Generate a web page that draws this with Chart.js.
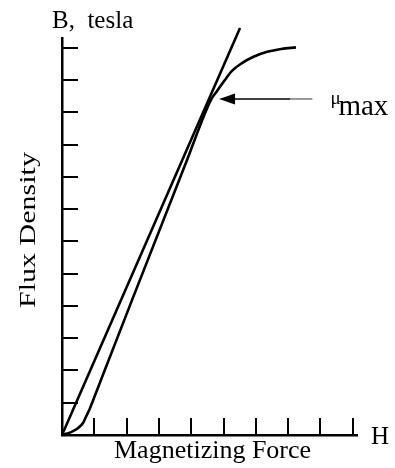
<!DOCTYPE html>
<html>
<head>
<meta charset="utf-8">
<script src="https://cdn.jsdelivr.net/npm/chart.js@4/dist/chart.umd.min.js"></script>
<style>
  html, body { margin: 0; padding: 0; background: #fff; }
  canvas { display: block; }
</style>
</head>
<body>
<canvas id="c" width="395" height="468"></canvas>
<script>
// ---- data (H and B in tick units) ----
const curveH = [0, 0.28, 0.50, 0.65, 0.74, 0.87, 1.11, 2.17, 3.87, 4.61, 4.80, 5.02, 5.26, 5.57, 5.91, 6.35, 6.78, 7.24];
const curveB = [0, 0.09, 0.22, 0.37, 0.56, 0.84, 1.46, 4.19, 8.53, 10.39, 10.67, 10.98, 11.29, 11.53, 11.72, 11.88, 11.97, 12.02];
const tangentH = [0, 5.51];
const tangentB = [0, 12.62];
const xTicks = [1, 2, 3, 4, 5, 6, 7, 8, 9];
const yTicks = [1, 2, 3, 4, 5, 6, 7, 8, 9, 10, 11, 12];
const xLabel = 'Magnetizing Force';
const yLabel = 'Flux Density';
const yUnitLabel = 'B,  tesla';
const xUnitLabel = 'H';
const muLabel = 'μ';
const muSub = 'max';
// annotation anchor (data units): arrow tip near point of maximum permeability
const arrowTip = {x: 4.86, y: 10.42};
const arrowTailX = 7.75;

const SERIF = '"Liberation Serif", "DejaVu Serif", serif';

const toPts = (xs, ys) => xs.map((x, i) => ({x, y: ys[i]}));

const decor = {
  id: 'decor',
  afterDraw(chart) {
    const ctx = chart.ctx;
    const xs = chart.scales.x, ys = chart.scales.y;
    const a = chart.chartArea;
    ctx.save();
    ctx.strokeStyle = '#000';
    ctx.fillStyle = '#000';
    ctx.lineCap = 'butt';
    // inward tick marks
    ctx.lineWidth = 2;
    yTicks.forEach(v => {
      const py = Math.round(ys.getPixelForValue(v));
      ctx.beginPath(); ctx.moveTo(a.left, py); ctx.lineTo(a.left + 16, py); ctx.stroke();
    });
    xTicks.forEach(v => {
      const px = Math.round(xs.getPixelForValue(v));
      ctx.beginPath(); ctx.moveTo(px, a.bottom); ctx.lineTo(px, a.bottom - 17); ctx.stroke();
    });
    // arrow to mu max
    const tx = xs.getPixelForValue(arrowTip.x), ty = ys.getPixelForValue(arrowTip.y);
    const ex = xs.getPixelForValue(arrowTailX);
    ctx.lineWidth = 1.5;
    ctx.beginPath(); ctx.moveTo(tx + 14, ty); ctx.lineTo(ex - 22, ty); ctx.stroke();
    ctx.strokeStyle = '#777';
    ctx.beginPath(); ctx.moveTo(ex - 22, ty); ctx.lineTo(ex, ty); ctx.stroke();
    ctx.strokeStyle = '#000';
    ctx.beginPath();
    ctx.moveTo(tx, ty); ctx.lineTo(tx + 16, ty - 5.5); ctx.lineTo(tx + 16, ty + 5.5); ctx.closePath();
    ctx.fill();
    // texts
    ctx.textBaseline = 'alphabetic';
    ctx.textAlign = 'left';
    ctx.font = '25px ' + SERIF;
    ctx.fillText(yUnitLabel, 52, 28);
    ctx.fillText(xUnitLabel, 371, 444);
    ctx.font = '26px ' + SERIF;
    ctx.fillText(xLabel, 114, 458);
    // mu max
    ctx.font = '19px ' + SERIF;
    ctx.fillText(muLabel, ex + 18, ty + 5);
    ctx.font = '29px ' + SERIF;
    ctx.fillText(muSub, ex + 26, ty + 16);
    // rotated y label
    ctx.save();
    ctx.translate(35, 230);
    ctx.rotate(-Math.PI / 2);
    ctx.scale(1.25, 1);
    ctx.font = '24px ' + SERIF;
    ctx.textAlign = 'center';
    ctx.fillText(yLabel, 0, 0);
    ctx.restore();
    ctx.restore();
  }
};

new Chart(document.getElementById('c'), {
  type: 'scatter',
  data: {
    datasets: [
      {
        label: 'tangent',
        data: toPts(tangentH, tangentB),
        showLine: true,
        borderColor: '#000',
        borderWidth: 2.6,
        pointRadius: 0,
        clip: false
      },
      {
        label: 'B-H curve',
        data: toPts(curveH, curveB),
        showLine: true,
        borderColor: '#000',
        borderWidth: 2.6,
        pointRadius: 0,
        cubicInterpolationMode: 'monotone',
        clip: false
      }
    ]
  },
  options: {
    responsive: false,
    animation: false,
    devicePixelRatio: 1,
    layout: { padding: { left: 62, right: 38, top: 38, bottom: 33 } },
    plugins: { legend: { display: false }, tooltip: { enabled: false }, title: { display: false } },
    scales: {
      x: {
        type: 'linear', min: 0, max: 9.13,
        ticks: { display: false },
        grid: { display: true, drawOnChartArea: false, drawTicks: false, color: 'rgba(0,0,0,0)' },
        border: { display: true, color: '#000', width: 2.5 },
        afterFit(s) { s.height = 0; }
      },
      y: {
        type: 'linear', min: 0, max: 12.31,
        ticks: { display: false },
        grid: { display: true, drawOnChartArea: false, drawTicks: false, color: 'rgba(0,0,0,0)' },
        border: { display: true, color: '#000', width: 2.5 },
        afterFit(s) { s.width = 0; }
      }
    }
  },
  plugins: [decor]
});
</script>
</body>
</html>
